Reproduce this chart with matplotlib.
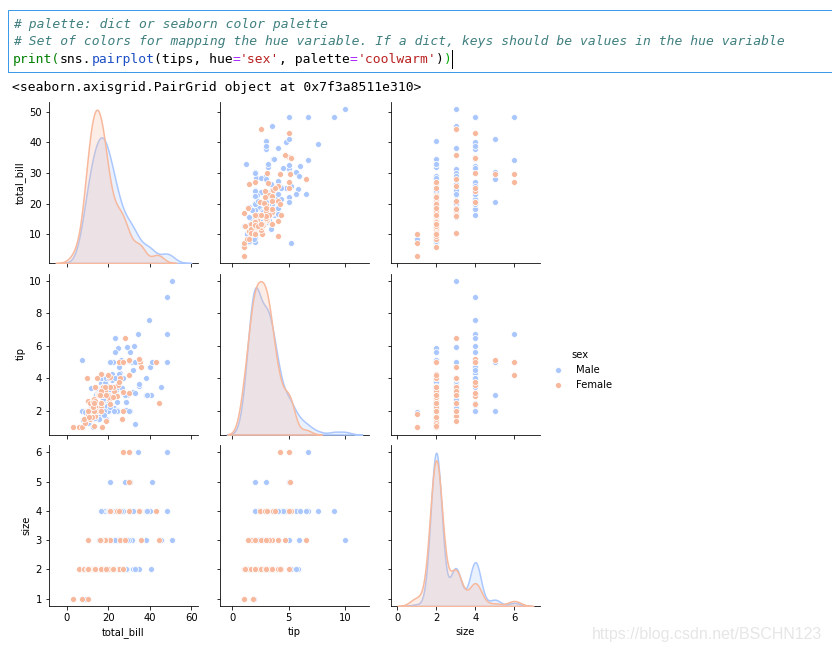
import numpy as np
import matplotlib
matplotlib.use("Agg")
import matplotlib.pyplot as plt
from matplotlib.lines import Line2D
from matplotlib.patches import Rectangle
import seaborn as sns

# tips dataset (244 rows)
total_bill = [
    16.99, 10.34, 21.01, 23.68, 24.59, 25.29, 8.77, 26.88, 15.04, 14.78,
    10.27, 35.26, 15.42, 18.43, 14.83, 21.58, 10.33, 16.29, 16.97, 20.65,
    17.92, 20.29, 15.77, 39.42, 19.82, 17.81, 13.37, 12.69, 21.70, 19.65,
    9.55, 18.35, 15.06, 20.69, 17.78, 24.06, 16.31, 16.93, 18.69, 31.27,
    16.04, 17.46, 13.94, 9.68, 30.40, 18.29, 22.23, 32.40, 28.55, 18.04,
    12.54, 10.29, 34.81, 9.94, 25.56, 19.49, 38.01, 26.41, 11.24, 48.27,
    20.29, 13.81, 11.02, 18.29, 17.59, 20.08, 16.45, 3.07, 20.23, 15.01,
    12.02, 17.07, 26.86, 25.28, 14.73, 10.51, 17.92, 27.20, 22.76, 17.29,
    19.44, 16.66, 10.07, 32.68, 15.98, 34.83, 13.03, 18.28, 24.71, 21.16,
    28.97, 22.49, 5.75, 16.32, 22.75, 40.17, 27.28, 12.03, 21.01, 12.46,
    11.35, 15.38, 44.30, 22.42, 20.92, 15.36, 20.49, 25.21, 18.24, 14.31,
    14.00, 7.25, 38.07, 23.95, 25.71, 17.31, 29.93, 10.65, 12.43, 24.08,
    11.69, 13.42, 14.26, 15.95, 12.48, 29.80, 8.52, 14.52, 11.38, 22.82,
    19.08, 20.27, 11.17, 12.26, 18.26, 8.51, 10.33, 14.15, 16.00, 13.16,
    17.47, 34.30, 41.19, 27.05, 16.43, 8.35, 18.64, 11.87, 9.78, 7.51,
    14.07, 13.13, 17.26, 24.55, 19.77, 29.85, 48.17, 25.00, 13.39, 16.49,
    21.50, 12.66, 16.21, 13.81, 17.51, 24.52, 20.76, 31.71, 10.59, 10.63,
    50.81, 15.81, 7.25, 31.85, 16.82, 32.90, 17.89, 14.48, 9.60, 34.63,
    34.65, 23.33, 45.35, 23.17, 40.55, 20.69, 20.90, 30.46, 18.15, 23.10,
    15.69, 19.81, 28.44, 15.48, 16.58, 7.56, 10.34, 43.11, 13.00, 13.51,
    18.71, 12.74, 13.00, 16.40, 20.53, 16.47, 26.59, 38.73, 24.27, 12.76,
    30.06, 25.89, 48.33, 13.27, 28.17, 12.90, 28.15, 11.59, 7.74, 30.14,
    12.16, 13.42, 8.58, 15.98, 13.42, 16.27, 10.09, 20.45, 13.28, 22.12,
    24.01, 15.69, 11.61, 10.77, 15.53, 10.07, 12.60, 32.83, 35.83, 29.03,
    27.18, 22.67, 17.82, 18.78,
]
tip = [
    1.01, 1.66, 3.50, 3.31, 3.61, 4.71, 2.00, 3.12, 1.96, 3.23,
    1.71, 5.00, 1.57, 3.00, 3.02, 3.92, 1.67, 3.71, 3.50, 3.35,
    4.08, 2.75, 2.23, 7.58, 3.18, 2.34, 2.00, 2.00, 4.30, 3.00,
    1.45, 2.50, 3.00, 2.45, 3.27, 3.60, 2.00, 3.07, 2.31, 5.00,
    2.24, 2.54, 3.06, 1.32, 5.60, 3.00, 5.00, 6.00, 2.05, 3.00,
    2.50, 2.60, 5.20, 1.56, 4.34, 3.51, 3.00, 1.50, 1.76, 6.73,
    3.21, 2.00, 1.98, 3.76, 2.64, 3.15, 2.47, 1.00, 2.01, 2.09,
    1.97, 3.00, 3.14, 5.00, 2.20, 1.25, 3.08, 4.00, 3.00, 2.71,
    3.00, 3.40, 1.83, 5.00, 2.03, 5.17, 2.00, 4.00, 5.85, 3.00,
    3.00, 3.50, 1.00, 4.30, 3.25, 4.73, 4.00, 1.50, 3.00, 1.50,
    2.50, 3.00, 2.50, 3.48, 4.08, 1.64, 4.06, 4.29, 3.76, 4.00,
    3.00, 1.00, 4.00, 2.55, 4.00, 3.50, 5.07, 1.50, 1.80, 2.92,
    2.31, 1.68, 2.50, 2.00, 2.52, 4.20, 1.48, 2.00, 2.00, 2.18,
    1.50, 2.83, 1.50, 2.00, 3.25, 1.25, 2.00, 2.00, 2.00, 2.75,
    3.50, 6.70, 5.00, 5.00, 2.30, 1.50, 1.36, 1.63, 1.73, 2.00,
    2.50, 2.00, 2.74, 2.00, 2.00, 5.14, 5.00, 3.75, 2.61, 2.00,
    3.50, 2.50, 2.00, 2.00, 3.00, 3.48, 2.24, 4.50, 1.61, 2.00,
    10.00, 3.16, 5.15, 3.18, 4.00, 3.11, 2.00, 2.00, 4.00, 3.55,
    3.68, 5.65, 3.50, 6.50, 3.00, 5.00, 3.50, 2.00, 3.50, 4.00,
    1.50, 4.19, 2.56, 2.02, 4.00, 1.44, 2.00, 5.00, 2.00, 2.00,
    4.00, 2.01, 2.00, 2.50, 4.00, 3.23, 3.41, 3.00, 2.03, 2.23,
    2.00, 5.16, 9.00, 2.50, 6.50, 1.10, 3.00, 1.50, 1.44, 3.09,
    2.20, 3.48, 1.92, 3.00, 1.58, 2.50, 2.00, 3.00, 2.72, 2.88,
    2.00, 3.00, 3.39, 1.47, 3.00, 1.25, 1.00, 1.17, 4.67, 5.92,
    2.00, 2.00, 1.75, 3.00,
]
size = [
    2, 3, 3, 2, 4, 4, 2, 4, 2, 2,
    2, 4, 2, 4, 2, 2, 3, 3, 3, 3,
    2, 2, 2, 4, 2, 4, 2, 2, 2, 2,
    2, 4, 2, 4, 2, 3, 3, 3, 3, 3,
    3, 2, 2, 2, 4, 2, 2, 4, 3, 2,
    2, 2, 4, 2, 4, 2, 4, 2, 2, 4,
    2, 2, 2, 4, 3, 3, 2, 1, 2, 2,
    2, 3, 2, 2, 2, 2, 2, 4, 2, 2,
    2, 2, 1, 2, 2, 4, 2, 2, 2, 2,
    2, 2, 2, 2, 2, 4, 2, 2, 2, 2,
    2, 2, 3, 2, 2, 2, 2, 2, 2, 2,
    2, 1, 3, 2, 3, 2, 4, 2, 2, 4,
    2, 2, 2, 2, 2, 6, 2, 2, 2, 3,
    2, 2, 2, 2, 2, 2, 2, 2, 2, 2,
    2, 6, 5, 6, 2, 2, 3, 2, 2, 2,
    2, 2, 3, 4, 4, 5, 6, 4, 2, 4,
    4, 2, 3, 2, 2, 3, 2, 4, 2, 2,
    3, 2, 2, 2, 2, 2, 2, 2, 2, 2,
    4, 2, 3, 4, 2, 5, 3, 5, 3, 3,
    2, 2, 2, 2, 2, 2, 2, 4, 2, 2,
    3, 2, 2, 2, 4, 3, 3, 4, 2, 2,
    3, 4, 4, 2, 3, 2, 5, 2, 2, 4,
    2, 2, 1, 3, 2, 2, 2, 4, 2, 2,
    4, 3, 2, 2, 2, 2, 2, 2, 3, 3,
    2, 2, 2, 2,
]
# M = Male, F = Female
sex_code = ("FMMMFMMMMM" "MFMMFMFMFM" "MFFMMMMMMF" "MMFFMMMFMM" "MMMMMMMMMM"
            "MFFMMMMFMM" "MMMMMMFFMM" "MFFFFMMMMM" "MMFMMFMMMM" "MMFFFMMMMM"
            "FFFFFMMMMF" "MFMMFFMFFF" "MFMMFFMFFM" "MFFFFFFFMF" "FMMFFFFFMM"
            "MMMMMFMFFM" "MMFMFMMMFF" "MMMMMMMMFM" "MMMMMMFMFM" "MFMMMMMFFM"
            "MFFFMFMMMF" "MMMFFFMMMF" "MFMFMFFMMF" "MMMMMMMMFM" "FMMF")

variables = ["total_bill", "tip", "size"]
hue_names = ["Male", "Female"]

data = {"total_bill": np.array(total_bill), "tip": np.array(tip),
        "size": np.array(size, dtype=float)}
sex = np.array(["Male" if c == "M" else "Female" for c in sex_code])


def scott_factor(x):
    # statsmodels-style scott bandwidth, expressed as a factor of the std
    sd = np.std(x, ddof=1)
    iqr = (np.percentile(x, 75) - np.percentile(x, 25)) / 1.349
    bw = 1.059 * min(sd, iqr) * len(x) ** (-0.2)
    return bw / sd


W, H = 832, 653
fig = plt.figure(figsize=(W / 72, H / 72), dpi=72)
pal = sns.color_palette("coolwarm", 2)

# notebook cell
fig.patches.append(Rectangle((8 / W, 1 - 72 / H), 830 / W, 62 / H,
                             transform=fig.transFigure, fill=False,
                             edgecolor="#3c9be8", linewidth=1))
mono = "DejaVu Sans Mono"
cw = 7.826
def code(segments, y, x0=13):
    n = 0
    for s, c, style in segments:
        fig.text((x0 + n * cw) / W, 1 - y / H, s, family=mono, fontsize=13,
                 color=c, style=style, va="center", ha="left")
        n += len(s)
    return x0 + n * cw

comment = "#3f7f7f"
code([("# palette: dict or seaborn color palette", comment, "italic")], 24.5)
code([("# Set of colors for mapping the hue variable. If a dict, keys should be values in the hue variable",
       comment, "italic")], 42)
end = code([("print(", "#008000", "normal"), ("sns.", "#000000", "normal"),
            ("pairplot", "#1c4fc4", "normal"), ("(tips, hue", "#000000", "normal"),
            ("=", "#aa22ff", "normal"), ("'sex'", "#ba2121", "normal"),
            (", palette", "#000000", "normal"), ("=", "#aa22ff", "normal"),
            ("'coolwarm'", "#ba2121", "normal"), (")", "#000000", "normal"),
            (")", "#00aa00", "normal")], 59.5)
fig.lines.append(Line2D([(end + 1) / W] * 2, [1 - 50 / H, 1 - 68 / H],
                        transform=fig.transFigure, color="black", linewidth=1))
code([("<seaborn.axisgrid.PairGrid object at 0x7f3a8511e310>", "#000000", "normal")], 87.5, x0=12)

# pair grid
lefts = [49, 220, 391]
tops = [102, 273.5, 445]
w, h = 149, 161
axes = [[None] * 3 for _ in range(3)]
for i in range(3):
    for j in range(3):
        rect = [lefts[j] / W, 1 - (tops[i] + h) / H, w / W, h / H]
        sx = axes[0][j] if i > 0 else None
        sy = axes[i][0] if j > 0 else None
        axes[i][j] = fig.add_axes(rect, sharex=sx, sharey=sy)

for i, yv in enumerate(variables):
    for j, xv in enumerate(variables):
        ax = axes[i][j]
        ax.spines["top"].set_visible(False)
        ax.spines["right"].set_visible(False)
        ax.tick_params(labelsize=10)
        if i == j:
            dax = fig.add_axes(ax.get_position(), sharex=ax)
            dax.set_axis_off()
            for k, name in enumerate(hue_names):
                vals = data[xv][sex == name]
                sns.kdeplot(x=vals, ax=dax, color=pal[k], fill=True,
                            bw_method=scott_factor(vals), cut=3, linewidth=1.5)
        else:
            for k, name in enumerate(hue_names):
                m = sex == name
                ax.scatter(data[xv][m], data[yv][m], s=36, color=pal[k],
                           edgecolor="white", linewidth=0.75)
        if j > 0:
            ax.tick_params(labelleft=False)
        else:
            ax.set_ylabel(yv, fontsize=10)
        if i < 2:
            ax.tick_params(labelbottom=False)
        else:
            ax.set_xlabel(xv, fontsize=10)

handles = [Line2D([], [], marker="o", linestyle="", markersize=6,
                  markerfacecolor=pal[k], markeredgecolor="white",
                  markeredgewidth=0.75) for k in range(2)]
fig.legend(handles, hue_names, title="sex", loc="center left",
           bbox_to_anchor=(539 / W, 1 - 370 / H), frameon=False,
           fontsize=10, title_fontsize=10)

fig.text(822 / W, 1 - 635 / H, "https://blog.csdn.net/BSCHN123",
         family="Liberation Sans", fontsize=16, color="#e6e6e6",
         ha="right", va="center")

fig.savefig("out.png", dpi=72)
